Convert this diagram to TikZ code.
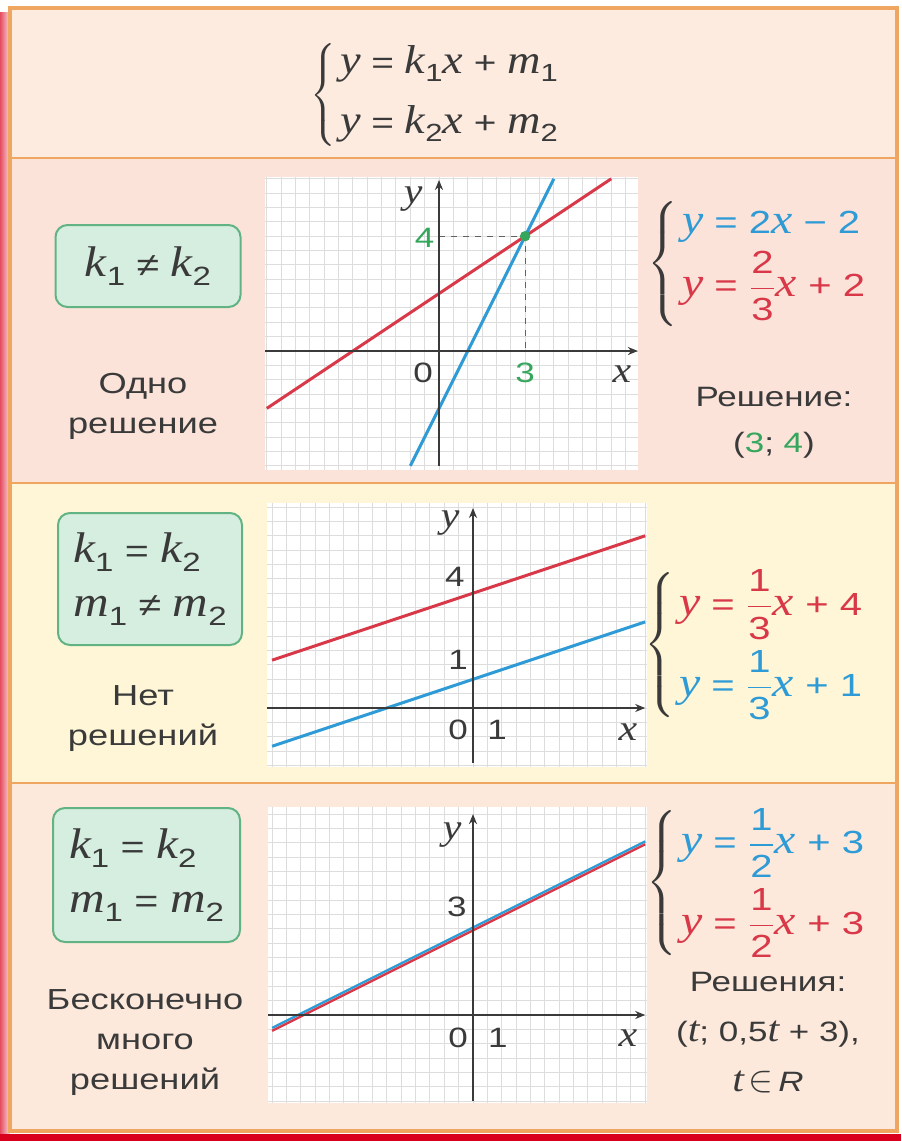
\documentclass[tikz,border=0pt]{standalone}
\usepackage{fontspec}
\usepackage{amsmath}
\usetikzlibrary{arrows.meta}
\setmainfont{Liberation Sans}[FakeStretch=1.25]
\newfontfamily\ser{Liberation Serif}[Scale=1.3,FakeStretch=1.15]

\definecolor{framec}{HTML}{EFA660}
\definecolor{headbg}{HTML}{FDEBDF}
\definecolor{pinkbg}{HTML}{FBE3D9}
\definecolor{yellbg}{HTML}{FEF6D6}
\definecolor{peachbg}{HTML}{FCE9DB}
\definecolor{condfill}{HTML}{D6EEE0}
\definecolor{condedge}{HTML}{62B384}
\definecolor{lred}{HTML}{D83848}
\definecolor{lblue}{HTML}{2E9BD6}
\definecolor{ptgreen}{HTML}{35A65C}
\definecolor{ink}{HTML}{3A3A3A}
\definecolor{gridc}{HTML}{DDDDDD}
\definecolor{barred}{HTML}{D8001C}

\newcommand\vr[1]{{\ser\itshape #1}}
\newcommand\lo[1]{\raisebox{-0.5ex}{\scalebox{0.8}{#1}}}
\newcommand\fr[2]{$\dfrac{\text{#1}}{\text{#2}}$}

\begin{document}
\begin{tikzpicture}[x=0.5pt, y=-0.5pt,
    cond/.style={draw=condedge, fill=condfill, line width=1pt, rounded corners=6pt, align=left, text=ink, font=\fontsize{16.5}{27}\selectfont},
    note/.style={align=center, text=ink, font=\fontsize{14.5}{20}\selectfont},
    sys/.style={anchor=west, inner sep=0pt, text=ink, font=\fontsize{16}{19}\selectfont},
    axlab/.style={inner sep=1pt, text=ink, font=\fontsize{14}{16}\selectfont},
    axisline/.style={draw=ink, line width=1pt, -{Stealth[length=5pt,width=4pt]}},
    gridline/.style={draw=gridc, line width=0.5pt},
    redline/.style={draw=lred, line width=1.5pt},
    blueline/.style={draw=lblue, line width=1.5pt},
    guide/.style={draw=ink!80, dashed, line width=0.6pt}
]
\useasboundingbox (0,0) rectangle (901,1141);

% Sheet and panels
\fill[white] (0,0) rectangle (901,1141);
\shade[left color=barred!70, right color=barred!15] (0,12) rectangle (10,1136);
\fill[barred] (0,1134) rectangle (901,1141);
\fill[headbg] (10,8) rectangle (897,158);
\fill[pinkbg] (10,158) rectangle (897,483);
\fill[yellbg] (10,483) rectangle (897,783);
\fill[peachbg] (10,783) rectangle (897,1131);
\draw[framec, line width=1pt] (10,158) -- (897,158);
\draw[framec, line width=1pt] (10,483) -- (897,483);
\draw[framec, line width=1pt] (10,783) -- (897,783);
\draw[framec, line width=1.6pt] (10,8) rectangle (897,1131);

% General system
\node[sys, font=\fontsize{15.5}{20}\selectfont] (sys0) at (310,95) {$\left\{\begin{tabular}{@{\hspace{2pt}}l@{}}\vr{y} = \vr{k}\lo{1}\vr{x} + \vr{m}\lo{1}\\[10pt]\vr{y} = \vr{k}\lo{2}\vr{x} + \vr{m}\lo{2}\end{tabular}\right.$};

% Case 1: one solution
\node[cond, minimum width=92.5pt, minimum height=41pt, align=center] (c1) at (148,266) {\vr{k}\lo{1} ≠ \vr{k}\lo{2}};
\node[note] (n1) at (143,406) {Одно\\решение};
\node[sys] (sys1) at (647,264) {$\left\{\begin{tabular}{@{\hspace{2pt}}l@{}}\color{lblue}\vr{y} = 2\vr{x} − 2\\[3pt]\color{lred}\vr{y} = \fr{2}{3}\vr{x} + 2\end{tabular}\right.$};
\node[note, font=\fontsize{14}{19}\selectfont] (ans1) at (774,423) {Решение:\\[4pt](\textcolor{ptgreen}{3}; \textcolor{ptgreen}{4})};

\begin{scope}[shift={(439,351)}, x=14.35pt, y=14.35pt]
  \fill[white] (-6.06,-4.15) rectangle (6.93,6.06);
  \draw[gridline, step=0.5] (-6.06,-4.15) grid (6.93,6.06);
  \coordinate (p1) at (3,4);
  \draw[guide] (0,4) -| (3,0);
  \draw[redline] (-6,-2) -- (6,6);
  \draw[blueline] (-1,-4) -- (4,6);
  \draw[axisline] (-6.06,0) -- (6.93,0);
  \draw[axisline] (0,-4) -- (0,5.96);
  \fill[ptgreen] (p1) circle (2.6pt);
  \node[axlab] (y1) at (-0.9,5.3) {\vr{y}};
  \node[axlab] (o1) at (-0.55,-0.77) {0};
  \node[axlab] (x1) at (6.37,-0.8) {\vr{x}};
  \node[axlab, text=ptgreen] (v4) at (-0.5,3.94) {4};
  \node[axlab, text=ptgreen] (v3) at (3,-0.77) {3};
\end{scope}

% Case 2: no solutions
\node[cond, minimum width=92pt, minimum height=66pt] (c2) at (150,579) {\vr{k}\lo{1} = \vr{k}\lo{2}\\\vr{m}\lo{1} ≠ \vr{m}\lo{2}};
\node[note] (n2) at (143,719) {Нет\\решений};
\node[sys] (sys2) at (644,645) {$\left\{\begin{tabular}{@{\hspace{2pt}}l@{}}\color{lred}\vr{y} = \fr{1}{3}\vr{x} + 4\\[12pt]\color{lblue}\vr{y} = \fr{1}{3}\vr{x} + 1\end{tabular}\right.$};

\begin{scope}[shift={(473,708)}, x=14.35pt, y=14.35pt]
  \fill[white] (-7.18,-2.06) rectangle (6.05,7.14);
  \draw[gridline, step=0.5] (-7.18,-2.06) grid (6.05,7.14);
  \draw[redline] (-7,5/3) -- (6,6);
  \draw[blueline] (-7,-4/3) -- (6,3);
  \draw[axisline] (-7.18,0) -- (6,0);
  \draw[axisline] (0,-1.9) -- (0,6.97);
  \node[axlab] (y2) at (-0.8,6.45) {\vr{y}};
  \node[axlab] (o2) at (-0.52,-0.77) {0};
  \node[axlab] (u2) at (0.84,-0.77) {1};
  \node[axlab] (x2) at (5.4,-0.84) {\vr{x}};
  \node[axlab] (b4) at (-0.63,4.56) {4};
  \node[axlab] (b1) at (-0.52,1.67) {1};
\end{scope}

% Case 3: infinitely many
\node[cond, minimum width=93.5pt, minimum height=67pt] (c3) at (146.5,875) {\vr{k}\lo{1} = \vr{k}\lo{2}\\\vr{m}\lo{1} = \vr{m}\lo{2}};
\node[note] (n3) at (145,1043) {Бесконечно\\много\\решений};
\node[sys] (sys3) at (646,883) {$\left\{\begin{tabular}{@{\hspace{2pt}}l@{}}\color{lblue}\vr{y} = \fr{1}{2}\vr{x} + 3\\[12pt]\color{lred}\vr{y} = \fr{1}{2}\vr{x} + 3\end{tabular}\right.$};
\node[note, font=\fontsize{14}{25}\selectfont] (ans3) at (768,1033) {Решения:\\(\vr{t}; 0,5\vr{t} + 3),\\\vr{t}\,\scalebox{1.3}{$\in$}\,{\itshape R}};

\begin{scope}[shift={(473,1015)}, x=14.35pt, y=14.35pt]
  \fill[white] (-7.14,-3.07) rectangle (6.05,7.25);
  \draw[gridline, step=0.5] (-7.14,-3.07) grid (6.05,7.25);
  \draw[redline, line width=1.2pt] (-7,-0.55) -- (6,5.95);
  \draw[blueline, line width=1.2pt] (-7,-0.45) -- (6,6.05);
  \draw[axisline] (-7.14,0) -- (6,0);
  \draw[axisline] (0,-3) -- (0,7);
  \node[axlab] (y3) at (-0.73,6.27) {\vr{y}};
  \node[axlab] (o3) at (-0.52,-0.8) {0};
  \node[axlab] (u3) at (0.87,-0.8) {1};
  \node[axlab] (x3) at (5.4,-0.8) {\vr{x}};
  \node[axlab] (b3) at (-0.56,3.76) {3};
\end{scope}

\end{tikzpicture}
\end{document}
